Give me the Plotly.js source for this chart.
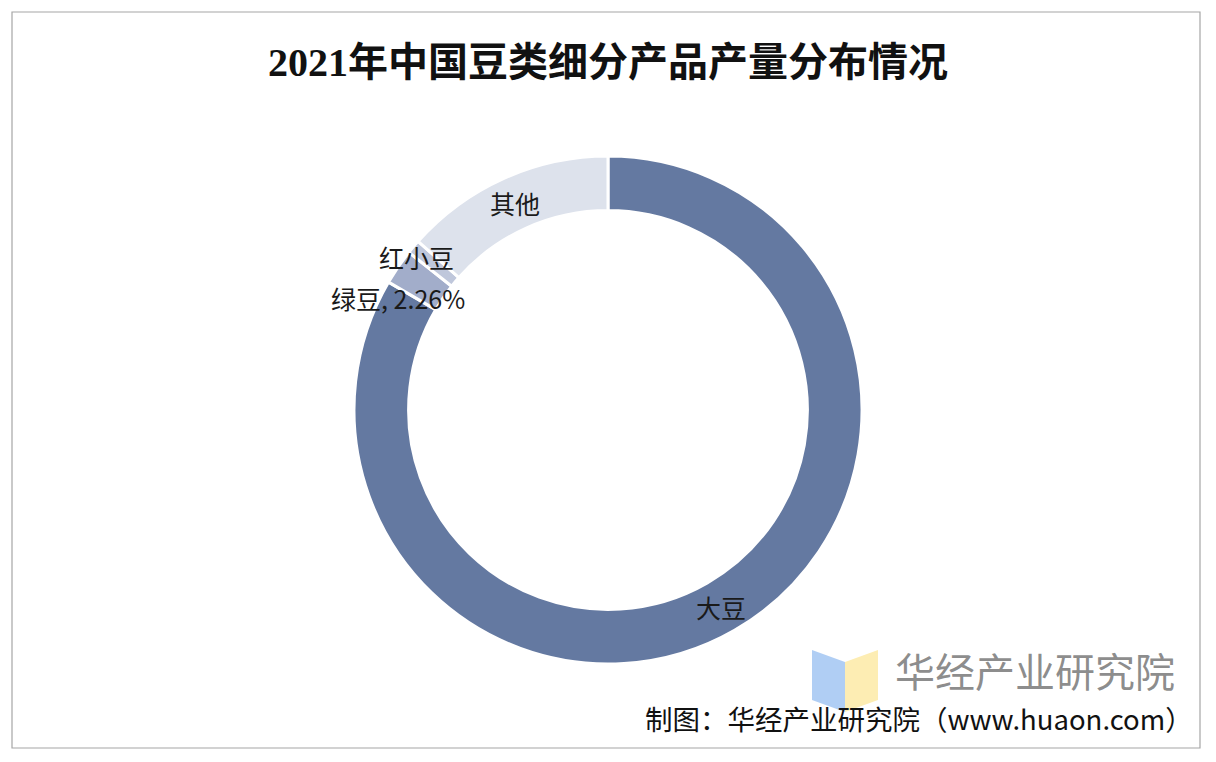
<!DOCTYPE html>
<html>
<head>
<meta charset="utf-8">
<script src="https://cdn.plot.ly/plotly-3.0.1.min.js"></script>
<style>
html,body{margin:0;padding:0;background:#fff;}
#chart{width:1216px;height:762px;}
</style>
</head>
<body>
<div id="chart"></div>
<script>
const categories = ['大豆', '绿豆', '红小豆', '其他'];
const shares = [83.4, 2.26, 0.9, 13.44];
const sliceLabels = ['大豆', '绿豆, 2.26%', '红小豆', '其他'];
const titleText = '2021年中国豆类细分产品产量分布情况';
const sourceText = '制图：华经产业研究院（www.huaon.com）';
const brandText = '华经产业研究院';

const W = 1216, H = 762;
const px = x => x / W;
const py = y => 1 - y / H;

const cx = 608, cy = 410, R = 254, HOLE = 0.785;
const cjk = '"Noto Sans CJK SC", "Noto Sans", sans-serif';

const trace = {
  type: 'pie',
  labels: categories,
  values: shares,
  textinfo: 'none',
  hole: HOLE,
  sort: false,
  direction: 'clockwise',
  rotation: 0,
  marker: {
    colors: ['#6479a1', '#a2adca', '#bfc7db', '#dde2ec'],
    line: {color: '#ffffff', width: 3}
  },
  domain: {x: [px(cx - R), px(cx + R)], y: [py(cy + R), py(cy - R)]},
  showlegend: false,
  hoverinfo: 'label+percent'
};

// label positions derived from slice mid-angles
const total = shares.reduce((a, b) => a + b, 0);
let cum = 0;
const labelAnns = [];
shares.forEach((v, i) => {
  const mid = (cum + v / 2) / total * 2 * Math.PI;
  cum += v;
  let r, dx = 0, dy = 0;
  if (i === 0 || i === 3) { r = R * (1 + HOLE) / 2; }
  else if (i === 1) { r = R * 1.0; dx = 0; dy = 31; }
  else { r = R * 1.02; dx = 7; dy = 14; }
  const x = cx + r * Math.sin(mid) + dx;
  const y = cy - r * Math.cos(mid) + dy;
  labelAnns.push({text: sliceLabels[i], xref: 'paper', yref: 'paper', x: px(x), y: py(y),
    xanchor: 'center', yanchor: 'middle', showarrow: false,
    font: {family: cjk, size: 25, color: '#1a1a1a'}});
});

const layout = {
  width: W, height: H,
  margin: {l: 0, r: 0, t: 0, b: 0},
  paper_bgcolor: '#ffffff',
  plot_bgcolor: '#ffffff',
  showlegend: false,
  title: {
    text: '<b>' + titleText + '</b>',
    x: 0.5, xanchor: 'center', xref: 'paper',
    y: py(62), yanchor: 'middle', yref: 'paper',
    font: {family: '"Liberation Serif", "Noto Sans CJK SC", serif', size: 40, color: '#111111'}
  },
  shapes: [
    {type: 'rect', xref: 'paper', yref: 'paper', x0: px(12), x1: px(1200), y0: py(748), y1: py(12),
     line: {color: '#a6a6a6', width: 1.2}, fillcolor: 'rgba(0,0,0,0)', layer: 'below'},
    {type: 'path', xref: 'paper', yref: 'paper',
     path: `M ${px(812)} ${py(650)} L ${px(845)} ${py(662)} L ${px(845)} ${py(712)} L ${px(812)} ${py(700)} Z`,
     fillcolor: 'rgba(150,190,240,0.75)', line: {width: 0}},
    {type: 'path', xref: 'paper', yref: 'paper',
     path: `M ${px(845)} ${py(662)} L ${px(878)} ${py(650)} L ${px(878)} ${py(700)} L ${px(845)} ${py(712)} Z`,
     fillcolor: 'rgba(253,232,160,0.8)', line: {width: 0}}
  ],
  annotations: labelAnns.concat([
    {text: brandText, xref: 'paper', yref: 'paper', x: px(893), y: py(670), xanchor: 'left', yanchor: 'middle',
     showarrow: false, font: {family: cjk, size: 40, color: 'rgba(120,120,120,0.85)'}},
    {text: sourceText, xref: 'paper', yref: 'paper', x: px(643), y: py(718), xanchor: 'left', yanchor: 'middle',
     showarrow: false, font: {family: cjk, size: 27.5, color: '#111111'}}
  ])
};

Plotly.newPlot('chart', [trace], layout, {displayModeBar: false, staticPlot: true});
</script>
</body>
</html>
